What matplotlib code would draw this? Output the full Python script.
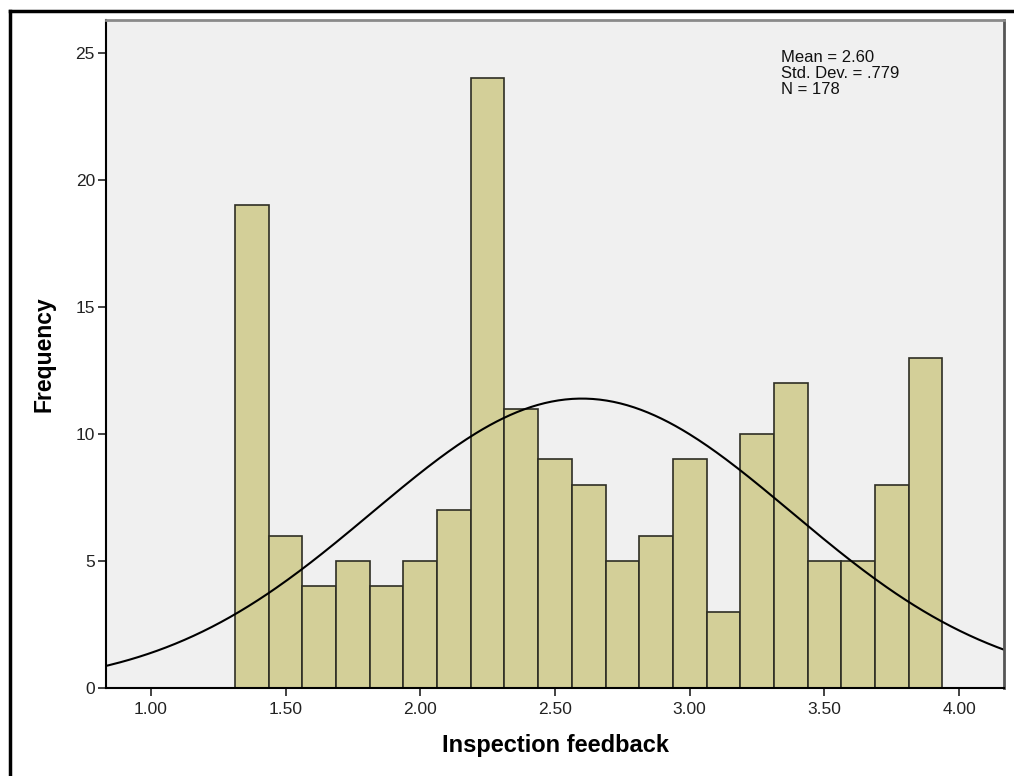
import numpy as np
import matplotlib.pyplot as plt
from matplotlib.lines import Line2D

plt.rcParams["font.family"] = ["Liberation Sans", "DejaVu Sans"]

# histogram
bin_start = 1.3125
bin_width = 0.125
counts = [19, 6, 4, 5, 4, 5, 7, 24, 11, 9, 8, 5, 6, 9, 3, 10, 12, 5, 5, 8, 13]
mean = 2.60
std = 0.779
n = 178
x_ticks = [1.00, 1.50, 2.00, 2.50, 3.00, 3.50, 4.00]
y_ticks = [0, 5, 10, 15, 20, 25]

fig = plt.figure(figsize=(10.14, 7.76), dpi=100)
ax = fig.add_axes([106 / 1014, 88 / 776, 898 / 1014, 668 / 776])
ax.set_facecolor("#f0f0f0")

edges = bin_start + bin_width * np.arange(len(counts))
ax.bar(edges, counts, width=bin_width, align="edge", color="#d3cf98",
       edgecolor="#2e2e24", linewidth=1.2, zorder=1)

# normal curve scaled to the histogram
xs = np.linspace(0.8, 4.2, 400)
ys = n * bin_width / (std * np.sqrt(2 * np.pi)) * np.exp(-0.5 * ((xs - mean) / std) ** 2)
ax.plot(xs, ys, color="black", linewidth=1.5, zorder=2)

ax.set_xlim(0.833, 4.167)
ax.set_ylim(0, 26.3)
ax.set_xticks(x_ticks)
ax.set_xticklabels(["{:.2f}".format(t) for t in x_ticks])
ax.set_yticks(y_ticks)
ax.tick_params(axis="both", direction="out", length=6, width=1.2,
               labelsize=12.5, colors="#222222")
ax.tick_params(axis="x", pad=4)
ax.tick_params(axis="y", pad=2)

ax.spines["left"].set_color("black")
ax.spines["left"].set_linewidth(1.5)
ax.spines["bottom"].set_color("black")
ax.spines["bottom"].set_linewidth(1.5)
ax.spines["top"].set_color("#8a8a8a")
ax.spines["top"].set_linewidth(2)
ax.spines["right"].set_color("#555555")
ax.spines["right"].set_linewidth(2)

ax.set_xlabel("Inspection feedback", fontsize=17, fontweight="bold", labelpad=12)
ax.set_ylabel("Frequency", fontsize=16.5, fontweight="bold", labelpad=14)

stats = "Mean = {:.2f}\nStd. Dev. = .{:.0f}\nN = {}".format(mean, std * 1000, n)
ax.text(781 / 1014, 1 - 50 / 776, stats, transform=fig.transFigure,
        fontsize=12, va="top", ha="left", linespacing=1.08, color="#111111")

# outer frame of the output window
fig.add_artist(Line2D([10 / 1014, 10 / 1014], [0, 1 - 11 / 776],
                      transform=fig.transFigure, color="black", linewidth=2.5))
fig.add_artist(Line2D([10 / 1014, 1], [1 - 11 / 776, 1 - 11 / 776],
                      transform=fig.transFigure, color="black", linewidth=2.5))

fig.savefig("out.png", dpi=100)
